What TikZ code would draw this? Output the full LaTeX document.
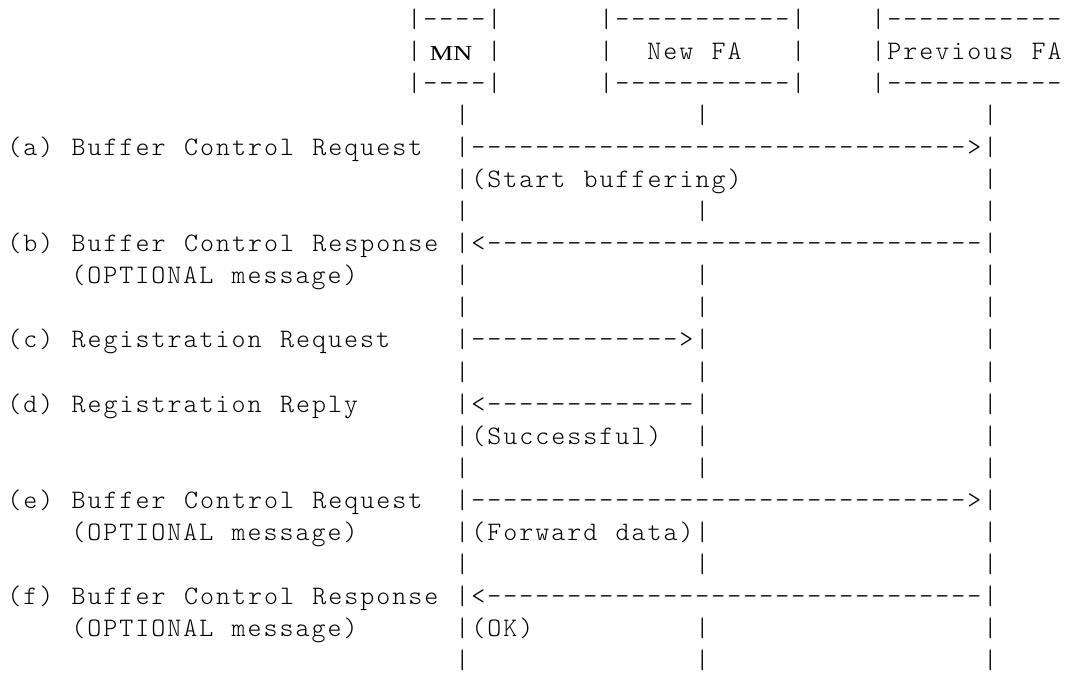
\documentclass[tikz,border=0pt]{standalone}
\usepackage{fontspec}
\usepackage{graphicx}
% Typewriter face for the character grid: every cell is 12pt wide
\newfontfamily\gridface{lmmonolt10-regular.otf}[Ligatures={TeXOff,CommonOff},LetterSpace=7.5,WordSpace={1.1429,0,0}]
\newfontfamily\boxserif{Liberation Serif}
\newcommand\gridfont{\gridface\fontsize{20pt}{24pt}\selectfont}
\def\dten{----------}
% \cellat{name}{column}{row}{text}
\newcommand\cellat[4]{\node[grid] (#1) at ({5.6+12*(#2)},{-21-24*((#3)-1)}) {#4};}
\begin{document}
\begin{tikzpicture}[x=1pt,y=1pt,
  grid/.style={anchor=base west,inner sep=0pt,outer sep=0pt,font=\gridfont,text=black}]
\fill[white] (0,0) rectangle (802.5,-504.75);
\useasboundingbox (0,0) rectangle (802.5,-504.75);

% entity boxes
\cellat{mnTop}{25}{1}{|----|}
\cellat{mnL}{25}{2}{|}
\node[anchor=base,inner sep=0pt,font=\boxserif\fontsize{16pt}{18pt}\selectfont] (mn) at (338.25,-45.5) {\scalebox{1.25}[1]{MN}};
\cellat{mnR}{30}{2}{|}
\cellat{mnBot}{25}{3}{|----|}

\cellat{nfaTop}{37}{1}{|\dten-|}
\cellat{nfaL}{37}{2}{|}
\cellat{nfa}{40}{2}{New FA}
\cellat{nfaR}{49}{2}{|}
\cellat{nfaBot}{37}{3}{|\dten-|}

\cellat{pfaTop}{54}{1}{|\dten-}
\cellat{pfa}{54}{2}{|Previous FA}
\cellat{pfaBot}{54}{3}{|\dten-}

% lifelines
\foreach \r in {5,6,8,16,19}
  \foreach \c in {28,61} {\cellat{bar-\r-\c}{\c}{\r}{|}}
\foreach \r in {4,7,9,10,11,12,13,14,15,17,18,20,21}
  \foreach \c in {28,43,61} {\cellat{bar-\r-\c}{\c}{\r}{|}}

% (a)
\cellat{la}{0}{5}{(a) Buffer Control Request}
\cellat{ma}{29}{5}{\dten\dten\dten->}
\cellat{na}{29}{6}{(Start buffering)}
% (b)
\cellat{lb}{0}{8}{(b) Buffer Control Response}
\cellat{mb}{29}{8}{<\dten\dten\dten-}
\cellat{ob}{4}{9}{(OPTIONAL message)}
% (c)
\cellat{lc}{0}{11}{(c) Registration Request}
\cellat{mc}{29}{11}{\dten--->}
% (d)
\cellat{ld}{0}{13}{(d) Registration Reply}
\cellat{md}{29}{13}{<\dten---}
\cellat{nd}{29}{14}{(Successful)}
% (e)
\cellat{le}{0}{16}{(e) Buffer Control Request}
\cellat{me}{29}{16}{\dten\dten\dten->}
\cellat{oe}{4}{17}{(OPTIONAL message)}
\cellat{ne}{29}{17}{(Forward data)}
% (f)
\cellat{lf}{0}{19}{(f) Buffer Control Response}
\cellat{mf}{29}{19}{<\dten\dten\dten-}
\cellat{of}{4}{20}{(OPTIONAL message)}
\cellat{nf}{29}{20}{(OK)}
\end{tikzpicture}
\end{document}
